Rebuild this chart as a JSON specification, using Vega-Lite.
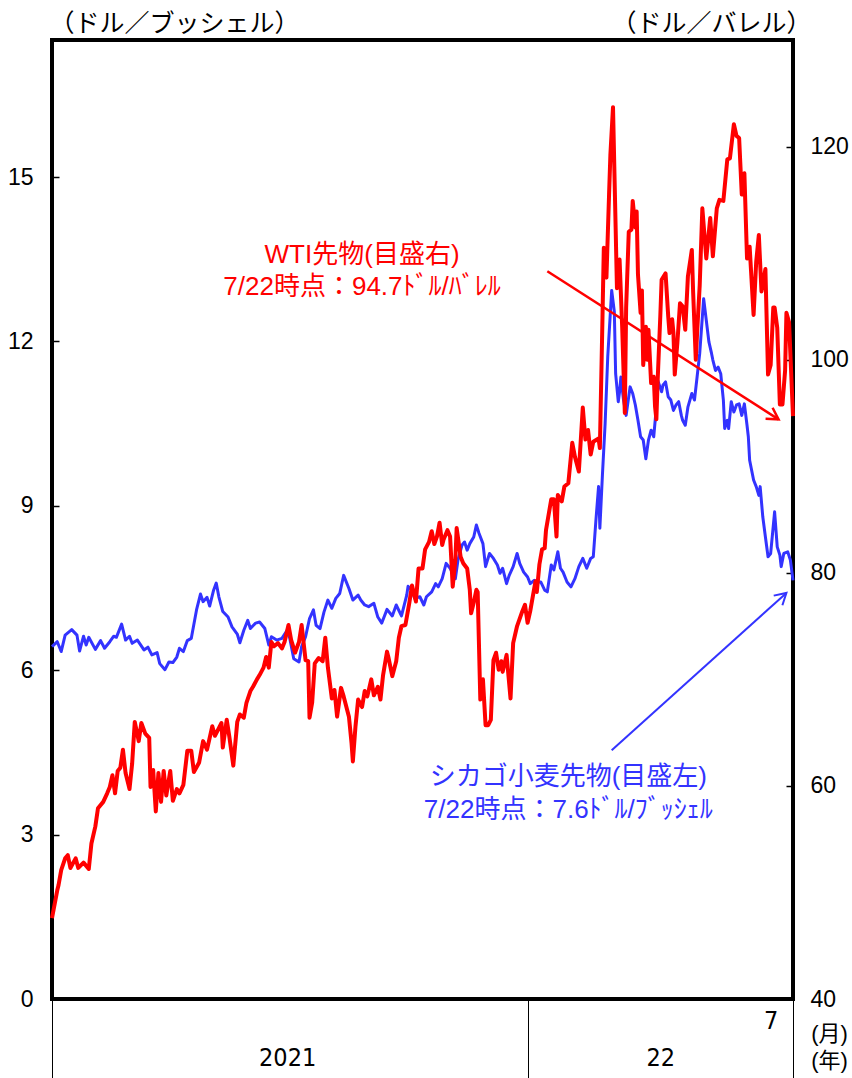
{
"$schema": "https://vega.github.io/schema/vega-lite/v6.json",
"width": 741,
"height": 959,
"autosize": {"type": "none"},
"padding": {"left": 52, "top": 40, "right": 59, "bottom": 79},
"background": "#ffffff",
"config": {
  "view": {"stroke": "#000000", "strokeWidth": 4},
  "axis": {"grid": false, "domain": false, "labelColor": "#000000", "titleColor": "#000000", "tickColor": "#000000", "labelFontWeight": "normal", "titleFontWeight": "normal"}
},
"datasets": {
"wheat": [
{"d":"2021-01-04","v":6.43},{"d":"2021-01-08","v":6.52},{"d":"2021-01-11","v":6.34},{"d":"2021-01-14","v":6.64},{"d":"2021-01-19","v":6.74},{"d":"2021-01-23","v":6.64},{"d":"2021-01-25","v":6.35},{"d":"2021-01-28","v":6.62},{"d":"2021-01-30","v":6.46},
{"d":"2021-02-01","v":6.60},{"d":"2021-02-06","v":6.38},{"d":"2021-02-10","v":6.54},{"d":"2021-02-13","v":6.40},{"d":"2021-02-17","v":6.52},{"d":"2021-02-20","v":6.62},{"d":"2021-02-22","v":6.60},{"d":"2021-02-26","v":6.84},
{"d":"2021-03-01","v":6.55},{"d":"2021-03-04","v":6.62},{"d":"2021-03-06","v":6.49},{"d":"2021-03-10","v":6.55},{"d":"2021-03-15","v":6.37},{"d":"2021-03-18","v":6.42},{"d":"2021-03-21","v":6.28},{"d":"2021-03-25","v":6.32},{"d":"2021-03-27","v":6.12},{"d":"2021-03-31","v":6.01},
{"d":"2021-04-03","v":6.15},{"d":"2021-04-06","v":6.14},{"d":"2021-04-09","v":6.24},{"d":"2021-04-11","v":6.40},{"d":"2021-04-14","v":6.34},{"d":"2021-04-17","v":6.54},{"d":"2021-04-20","v":6.58},{"d":"2021-04-24","v":7.10},{"d":"2021-04-27","v":7.39},{"d":"2021-04-29","v":7.25},
{"d":"2021-05-02","v":7.33},{"d":"2021-05-04","v":7.17},{"d":"2021-05-07","v":7.46},{"d":"2021-05-09","v":7.59},{"d":"2021-05-11","v":7.34},{"d":"2021-05-14","v":7.07},{"d":"2021-05-18","v":6.97},{"d":"2021-05-21","v":6.79},{"d":"2021-05-25","v":6.66},{"d":"2021-05-27","v":6.50},{"d":"2021-05-30","v":6.73},
{"d":"2021-06-02","v":6.91},{"d":"2021-06-04","v":6.76},{"d":"2021-06-08","v":6.86},{"d":"2021-06-11","v":6.88},{"d":"2021-06-15","v":6.76},{"d":"2021-06-18","v":6.46},{"d":"2021-06-20","v":6.61},{"d":"2021-06-24","v":6.55},{"d":"2021-06-28","v":6.58},
{"d":"2021-07-02","v":6.73},{"d":"2021-07-04","v":6.58},{"d":"2021-07-07","v":6.21},{"d":"2021-07-11","v":6.15},{"d":"2021-07-13","v":6.43},{"d":"2021-07-16","v":6.61},{"d":"2021-07-19","v":6.94},{"d":"2021-07-22","v":7.10},{"d":"2021-07-24","v":6.82},{"d":"2021-07-27","v":6.76},{"d":"2021-07-30","v":7.06},
{"d":"2021-08-02","v":7.28},{"d":"2021-08-05","v":7.13},{"d":"2021-08-08","v":7.31},{"d":"2021-08-11","v":7.40},{"d":"2021-08-14","v":7.73},{"d":"2021-08-18","v":7.49},{"d":"2021-08-21","v":7.28},{"d":"2021-08-25","v":7.37},{"d":"2021-08-27","v":7.28},{"d":"2021-08-30","v":7.19},
{"d":"2021-09-02","v":7.16},{"d":"2021-09-06","v":7.22},{"d":"2021-09-09","v":6.97},{"d":"2021-09-12","v":6.86},{"d":"2021-09-16","v":7.11},{"d":"2021-09-20","v":6.99},{"d":"2021-09-23","v":7.19},{"d":"2021-09-27","v":6.99},
{"d":"2021-10-01","v":7.37},{"d":"2021-10-02","v":7.53},{"d":"2021-10-05","v":7.46},{"d":"2021-10-07","v":7.31},{"d":"2021-10-11","v":7.34},{"d":"2021-10-14","v":7.19},{"d":"2021-10-16","v":7.34},{"d":"2021-10-20","v":7.43},{"d":"2021-10-23","v":7.58},{"d":"2021-10-25","v":7.52},{"d":"2021-10-28","v":7.67},{"d":"2021-10-31","v":7.95},
{"d":"2021-11-03","v":7.86},{"d":"2021-11-07","v":7.67},{"d":"2021-11-09","v":8.01},{"d":"2021-11-12","v":8.28},{"d":"2021-11-14","v":8.34},{"d":"2021-11-16","v":8.19},{"d":"2021-11-18","v":8.31},{"d":"2021-11-21","v":8.43},{"d":"2021-11-23","v":8.65},{"d":"2021-11-25","v":8.50},{"d":"2021-11-28","v":8.31},{"d":"2021-11-30","v":7.89},
{"d":"2021-12-03","v":8.13},{"d":"2021-12-06","v":8.04},{"d":"2021-12-09","v":7.92},{"d":"2021-12-11","v":7.77},{"d":"2021-12-13","v":7.86},{"d":"2021-12-16","v":7.58},{"d":"2021-12-18","v":7.73},{"d":"2021-12-21","v":7.89},{"d":"2021-12-24","v":8.13},{"d":"2021-12-26","v":7.95},{"d":"2021-12-29","v":7.79},
{"d":"2022-01-01","v":7.70},{"d":"2022-01-03","v":7.58},{"d":"2022-01-06","v":7.64},{"d":"2022-01-08","v":7.61},{"d":"2022-01-11","v":7.61},{"d":"2022-01-14","v":7.46},{"d":"2022-01-16","v":7.43},{"d":"2022-01-19","v":7.92},{"d":"2022-01-21","v":7.83},{"d":"2022-01-24","v":8.16},{"d":"2022-01-26","v":7.86},{"d":"2022-01-28","v":7.79},{"d":"2022-01-31","v":7.61},
{"d":"2022-02-03","v":7.52},{"d":"2022-02-06","v":7.67},{"d":"2022-02-09","v":7.89},{"d":"2022-02-12","v":8.04},{"d":"2022-02-15","v":7.86},{"d":"2022-02-18","v":8.04},{"d":"2022-02-20","v":8.07},{"d":"2022-02-22","v":8.74},{"d":"2022-02-24","v":9.35},{"d":"2022-02-25","v":8.59},{"d":"2022-02-27","v":9.59},
{"d":"2022-03-01","v":10.50},{"d":"2022-03-03","v":11.72},{"d":"2022-03-06","v":12.93},{"d":"2022-03-08","v":12.54},{"d":"2022-03-09","v":11.41},{"d":"2022-03-11","v":10.90},{"d":"2022-03-12","v":11.08},{"d":"2022-03-13","v":11.35},{"d":"2022-03-15","v":10.93},{"d":"2022-03-17","v":10.65},{"d":"2022-03-20","v":11.17},{"d":"2022-03-22","v":11.05},{"d":"2022-03-24","v":10.84},{"d":"2022-03-26","v":10.56},{"d":"2022-03-28","v":10.26},{"d":"2022-03-30","v":10.20},
{"d":"2022-04-01","v":9.86},{"d":"2022-04-03","v":10.20},{"d":"2022-04-05","v":10.38},{"d":"2022-04-07","v":10.26},{"d":"2022-04-09","v":10.80},{"d":"2022-04-10","v":11.29},{"d":"2022-04-13","v":11.08},{"d":"2022-04-14","v":11.20},{"d":"2022-04-16","v":11.26},{"d":"2022-04-18","v":10.99},{"d":"2022-04-20","v":10.93},{"d":"2022-04-22","v":10.74},{"d":"2022-04-24","v":10.84},{"d":"2022-04-26","v":10.90},{"d":"2022-04-28","v":10.65},{"d":"2022-04-29","v":10.56},
{"d":"2022-05-01","v":10.47},{"d":"2022-05-03","v":10.80},{"d":"2022-05-06","v":11.05},{"d":"2022-05-08","v":10.93},{"d":"2022-05-10","v":11.35},{"d":"2022-05-12","v":11.78},{"d":"2022-05-15","v":12.78},{"d":"2022-05-19","v":11.99},{"d":"2022-05-21","v":11.78},{"d":"2022-05-22","v":11.66},{"d":"2022-05-24","v":11.47},{"d":"2022-05-26","v":11.53},{"d":"2022-05-28","v":11.41},{"d":"2022-05-30","v":10.93},{"d":"2022-05-31","v":10.41},
{"d":"2022-06-02","v":10.56},{"d":"2022-06-03","v":10.41},{"d":"2022-06-05","v":10.90},{"d":"2022-06-07","v":10.71},{"d":"2022-06-09","v":10.84},{"d":"2022-06-11","v":10.86},{"d":"2022-06-13","v":10.65},{"d":"2022-06-15","v":10.86},{"d":"2022-06-17","v":10.47},{"d":"2022-06-18","v":10.26},{"d":"2022-06-19","v":9.83},{"d":"2022-06-22","v":9.47},{"d":"2022-06-24","v":9.35},{"d":"2022-06-26","v":9.19},{"d":"2022-06-27","v":9.35},{"d":"2022-06-29","v":8.80},
{"d":"2022-07-01","v":8.43},{"d":"2022-07-03","v":8.07},{"d":"2022-07-05","v":8.13},{"d":"2022-07-08","v":8.89},{"d":"2022-07-10","v":8.25},{"d":"2022-07-12","v":8.10},{"d":"2022-07-13","v":7.89},{"d":"2022-07-15","v":8.13},{"d":"2022-07-18","v":8.16},{"d":"2022-07-20","v":8.01},{"d":"2022-07-22","v":7.64}
],
"wti": [
{"d":"2021-01-04","v":47.6},{"d":"2021-01-08","v":50.2},{"d":"2021-01-09","v":50.7},{"d":"2021-01-11","v":52.1},{"d":"2021-01-14","v":53.2},{"d":"2021-01-16","v":53.5},{"d":"2021-01-18","v":52.3},{"d":"2021-01-22","v":53.2},{"d":"2021-01-24","v":52.3},{"d":"2021-01-28","v":52.8},
{"d":"2021-02-01","v":52.2},{"d":"2021-02-03","v":54.6},{"d":"2021-02-06","v":56.2},{"d":"2021-02-08","v":57.9},{"d":"2021-02-12","v":58.5},{"d":"2021-02-15","v":59.3},{"d":"2021-02-17","v":59.9},{"d":"2021-02-19","v":61.0},{"d":"2021-02-21","v":59.3},{"d":"2021-02-23","v":61.4},{"d":"2021-02-25","v":61.7},{"d":"2021-02-27","v":63.4},
{"d":"2021-03-01","v":61.2},{"d":"2021-03-04","v":59.7},{"d":"2021-03-06","v":62.1},{"d":"2021-03-08","v":66.0},{"d":"2021-03-11","v":64.2},{"d":"2021-03-13","v":65.9},{"d":"2021-03-16","v":64.9},{"d":"2021-03-19","v":64.5},{"d":"2021-03-20","v":59.9},{"d":"2021-03-22","v":61.5},{"d":"2021-03-24","v":57.6},{"d":"2021-03-26","v":61.2},{"d":"2021-03-28","v":58.5},{"d":"2021-03-30","v":61.4},
{"d":"2021-04-01","v":59.1},{"d":"2021-04-04","v":61.4},{"d":"2021-04-06","v":58.6},{"d":"2021-04-09","v":59.7},{"d":"2021-04-11","v":59.3},{"d":"2021-04-14","v":60.1},{"d":"2021-04-17","v":63.3},{"d":"2021-04-20","v":63.3},{"d":"2021-04-22","v":61.3},{"d":"2021-04-26","v":62.2},{"d":"2021-04-29","v":64.2},
{"d":"2021-05-02","v":63.4},{"d":"2021-05-06","v":65.6},{"d":"2021-05-08","v":64.7},{"d":"2021-05-13","v":65.9},{"d":"2021-05-14","v":63.6},{"d":"2021-05-17","v":66.2},{"d":"2021-05-19","v":64.6},{"d":"2021-05-22","v":61.9},{"d":"2021-05-25","v":66.0},{"d":"2021-05-27","v":66.7},{"d":"2021-05-30","v":66.4},
{"d":"2021-06-01","v":67.8},{"d":"2021-06-04","v":68.9},{"d":"2021-06-06","v":69.3},{"d":"2021-06-09","v":70.0},{"d":"2021-06-11","v":70.4},{"d":"2021-06-14","v":71.1},{"d":"2021-06-16","v":72.1},{"d":"2021-06-18","v":71.1},{"d":"2021-06-20","v":73.5},{"d":"2021-06-22","v":73.1},{"d":"2021-06-25","v":73.4},{"d":"2021-06-28","v":72.9},{"d":"2021-06-30","v":73.5},
{"d":"2021-07-03","v":75.1},{"d":"2021-07-05","v":73.7},{"d":"2021-07-08","v":72.5},{"d":"2021-07-11","v":73.5},{"d":"2021-07-13","v":75.1},{"d":"2021-07-16","v":71.8},{"d":"2021-07-18","v":71.7},{"d":"2021-07-19","v":66.4},{"d":"2021-07-21","v":67.8},{"d":"2021-07-23","v":71.5},{"d":"2021-07-26","v":72.0},{"d":"2021-07-29","v":71.7},{"d":"2021-07-31","v":73.9},
{"d":"2021-08-02","v":71.1},{"d":"2021-08-05","v":68.2},{"d":"2021-08-07","v":69.0},{"d":"2021-08-09","v":66.5},{"d":"2021-08-12","v":69.2},{"d":"2021-08-14","v":68.4},{"d":"2021-08-18","v":66.5},{"d":"2021-08-20","v":64.0},{"d":"2021-08-21","v":62.3},{"d":"2021-08-23","v":65.6},{"d":"2021-08-25","v":68.1},{"d":"2021-08-28","v":67.4},{"d":"2021-08-30","v":68.9},
{"d":"2021-09-01","v":68.4},{"d":"2021-09-04","v":70.0},{"d":"2021-09-06","v":68.5},{"d":"2021-09-09","v":69.3},{"d":"2021-09-11","v":68.1},{"d":"2021-09-13","v":70.4},{"d":"2021-09-16","v":72.6},{"d":"2021-09-17","v":72.1},{"d":"2021-09-20","v":70.3},{"d":"2021-09-23","v":71.7},{"d":"2021-09-25","v":73.9},{"d":"2021-09-27","v":75.0},{"d":"2021-09-30","v":75.1},
{"d":"2021-10-03","v":77.2},{"d":"2021-10-05","v":78.8},{"d":"2021-10-08","v":77.3},{"d":"2021-10-10","v":80.4},{"d":"2021-10-13","v":80.4},{"d":"2021-10-15","v":82.2},{"d":"2021-10-18","v":82.9},{"d":"2021-10-20","v":83.9},{"d":"2021-10-22","v":82.7},{"d":"2021-10-24","v":83.4},{"d":"2021-10-26","v":84.7},{"d":"2021-10-28","v":82.6},{"d":"2021-10-29","v":83.1},
{"d":"2021-11-01","v":84.0},{"d":"2021-11-03","v":83.4},{"d":"2021-11-05","v":78.7},{"d":"2021-11-07","v":81.2},{"d":"2021-11-08","v":84.2},{"d":"2021-11-11","v":81.5},{"d":"2021-11-13","v":80.9},{"d":"2021-11-16","v":80.4},{"d":"2021-11-18","v":78.4},{"d":"2021-11-19","v":76.2},{"d":"2021-11-21","v":77.2},{"d":"2021-11-23","v":78.4},{"d":"2021-11-24","v":78.2},{"d":"2021-11-26","v":68.1},{"d":"2021-11-28","v":70.0},{"d":"2021-11-30","v":65.7},
{"d":"2021-12-02","v":65.7},{"d":"2021-12-04","v":66.2},{"d":"2021-12-06","v":71.8},{"d":"2021-12-08","v":72.5},{"d":"2021-12-10","v":70.9},{"d":"2021-12-12","v":71.7},{"d":"2021-12-13","v":70.7},{"d":"2021-12-16","v":72.3},{"d":"2021-12-19","v":68.2},{"d":"2021-12-21","v":73.4},{"d":"2021-12-24","v":75.0},{"d":"2021-12-26","v":75.7},{"d":"2021-12-28","v":76.4},{"d":"2021-12-30","v":77.0},
{"d":"2022-01-01","v":75.3},{"d":"2022-01-03","v":76.4},{"d":"2022-01-05","v":77.8},{"d":"2022-01-07","v":79.2},{"d":"2022-01-08","v":78.2},{"d":"2022-01-10","v":80.8},{"d":"2022-01-12","v":82.2},{"d":"2022-01-14","v":82.3},{"d":"2022-01-15","v":84.0},{"d":"2022-01-19","v":86.9},{"d":"2022-01-21","v":86.9},{"d":"2022-01-23","v":83.4},{"d":"2022-01-24","v":87.3},{"d":"2022-01-27","v":86.7},{"d":"2022-01-29","v":88.1},
{"d":"2022-02-01","v":88.4},{"d":"2022-02-04","v":92.2},{"d":"2022-02-06","v":90.9},{"d":"2022-02-09","v":89.5},{"d":"2022-02-12","v":95.5},{"d":"2022-02-14","v":92.5},{"d":"2022-02-16","v":93.4},{"d":"2022-02-18","v":91.1},{"d":"2022-02-20","v":92.3},{"d":"2022-02-24","v":92.6},{"d":"2022-02-25","v":91.7},{"d":"2022-02-27","v":104.0},{"d":"2022-02-28","v":110.5},
{"d":"2022-03-02","v":107.7},{"d":"2022-03-04","v":115.5},{"d":"2022-03-05","v":119.2},{"d":"2022-03-07","v":123.7},{"d":"2022-03-09","v":112.4},{"d":"2022-03-10","v":106.7},{"d":"2022-03-12","v":109.4},{"d":"2022-03-14","v":103.0},{"d":"2022-03-16","v":95.0},{"d":"2022-03-17","v":104.9},{"d":"2022-03-19","v":112.0},{"d":"2022-03-21","v":112.2},{"d":"2022-03-22","v":114.9},{"d":"2022-03-24","v":112.4},{"d":"2022-03-25","v":113.9},{"d":"2022-03-26","v":108.0},{"d":"2022-03-28","v":104.4},{"d":"2022-03-29","v":106.5},{"d":"2022-03-30","v":99.5},
{"d":"2022-04-01","v":103.1},{"d":"2022-04-02","v":100.0},{"d":"2022-04-03","v":102.8},{"d":"2022-04-05","v":97.8},{"d":"2022-04-07","v":98.4},{"d":"2022-04-08","v":95.6},{"d":"2022-04-09","v":94.4},{"d":"2022-04-10","v":98.1},{"d":"2022-04-12","v":104.1},{"d":"2022-04-13","v":107.5},{"d":"2022-04-16","v":108.1},{"d":"2022-04-18","v":104.1},{"d":"2022-04-19","v":102.5},{"d":"2022-04-21","v":103.8},{"d":"2022-04-22","v":102.5},{"d":"2022-04-23","v":98.6},{"d":"2022-04-25","v":101.6},{"d":"2022-04-27","v":105.3},{"d":"2022-04-29","v":105.0},
{"d":"2022-05-01","v":102.8},{"d":"2022-05-03","v":107.8},{"d":"2022-05-06","v":110.3},{"d":"2022-05-07","v":106.3},{"d":"2022-05-09","v":100.0},{"d":"2022-05-10","v":102.5},{"d":"2022-05-12","v":107.0},{"d":"2022-05-14","v":114.2},{"d":"2022-05-17","v":109.5},{"d":"2022-05-20","v":113.3},{"d":"2022-05-22","v":109.7},{"d":"2022-05-25","v":114.2},{"d":"2022-05-27","v":115.0},{"d":"2022-05-30","v":114.9},
{"d":"2022-06-02","v":118.8},{"d":"2022-06-04","v":118.9},{"d":"2022-06-07","v":122.1},{"d":"2022-06-09","v":121.0},{"d":"2022-06-11","v":120.8},{"d":"2022-06-13","v":115.5},{"d":"2022-06-15","v":117.5},{"d":"2022-06-17","v":109.5},{"d":"2022-06-19","v":110.6},{"d":"2022-06-22","v":104.2},{"d":"2022-06-24","v":109.2},{"d":"2022-06-26","v":111.7},{"d":"2022-06-28","v":106.4},
{"d":"2022-07-01","v":108.5},{"d":"2022-07-03","v":98.6},{"d":"2022-07-05","v":99.5},{"d":"2022-07-07","v":104.9},{"d":"2022-07-08","v":104.9},{"d":"2022-07-10","v":103.0},{"d":"2022-07-12","v":95.8},{"d":"2022-07-14","v":95.8},{"d":"2022-07-16","v":99.0},{"d":"2022-07-17","v":104.4},{"d":"2022-07-19","v":103.5},{"d":"2022-07-22","v":94.7}
]
},
"encoding": {
  "x": {
    "field": "d", "type": "temporal",
    "scale": {"type": "utc", "domain": [{"year": 2021, "month": 1, "date": 4, "utc": true}, {"year": 2022, "month": 7, "date": 22, "utc": true}]},
    "axis": {
      "values": [
        {"year": 2021, "month": 1, "date": 4, "utc": true},
        {"year": 2021, "month": 7, "date": 2, "utc": true},
        {"year": 2022, "month": 1, "date": 1, "utc": true},
        {"year": 2022, "month": 4, "date": 12, "utc": true},
        {"year": 2022, "month": 7, "date": 5, "utc": true},
        {"year": 2022, "month": 7, "date": 22, "utc": true}
      ],
      "labelExpr": "(utcyear(datum.value) == 2021 && utcmonth(datum.value) == 6) ? '2021' : (utcmonth(datum.value) == 3 ? '22' : ((utcyear(datum.value) == 2022 && utcmonth(datum.value) == 6 && utcdate(datum.value) == 5) ? '7' : ''))",
      "tickSize": 79,
      "tickWidth": 1,
      "tickOpacity": {"condition": {"test": "utcmonth(datum.value) == 0 || utcdate(datum.value) == 22", "value": 1}, "value": 0},
      "labelPadding": {"condition": {"test": "utcdate(datum.value) == 5", "value": -70}, "value": -33},
      "labelFont": "'DejaVu Sans Condensed', 'Liberation Sans', sans-serif",
      "labelFontSize": 25,
      "labelBaseline": "top",
      "labelFlush": false,
      "labelOverlap": false,
      "labelBound": false,
      "title": ["(月)", "(年)"],
      "titleX": 777,
      "titleY": 34,
      "titleAngle": 0,
      "titleAlign": "center",
      "titleBaseline": "middle",
      "titleLineHeight": 27,
      "titleFont": "'Liberation Sans', 'Noto Sans CJK JP', sans-serif",
      "titleFontSize": 22
    }
  }
},
"layer": [
  {
    "encoding": {
      "y": {
        "field": "v", "type": "quantitative",
        "scale": {"domain": [0, 17.5], "nice": false, "zero": false},
        "axis": {
          "orient": "left",
          "values": [0, 3, 6, 9, 12, 15],
          "tickSize": -7,
          "tickWidth": 1.5,
          "labelPadding": 26,
          "labelFont": "'Liberation Sans', sans-serif",
          "labelFontSize": 23,
          "title": "（ドル／ブッシェル）",
          "titleAngle": 0,
          "titleX": 122,
          "titleY": -17,
          "titleAlign": "center",
          "titleBaseline": "middle",
          "titleFont": "'Noto Sans CJK JP', sans-serif",
          "titleFontSize": 25
        }
      }
    },
    "layer": [
      {"data": {"name": "wheat"}, "mark": {"type": "line", "color": "#3333ff", "strokeWidth": 3, "strokeJoin": "round"}},
      {
        "data": {"values": [{"d": "2022-02-01", "v": 4.05, "t": "シカゴ小麦先物(目盛左)"}, {"d": "2022-02-01", "v": 3.45, "t": "7/22時点：7.6ﾄﾞﾙ/ﾌﾞｯｼｪﾙ"}]},
        "mark": {"type": "text", "color": "#3333ff", "fontSize": 26, "font": "'Liberation Sans', 'Noto Sans CJK JP', sans-serif", "align": "center", "baseline": "middle"},
        "encoding": {"text": {"field": "t"}}
      },
      {
        "data": {"values": [{"d": "2022-03-06", "v": 4.54, "d2": "2022-07-17", "v2": 7.41}]},
        "mark": {"type": "rule", "color": "#3333ff", "strokeWidth": 2},
        "encoding": {"x2": {"field": "d2"}, "y2": {"field": "v2"}}
      },
      {
        "data": {"values": [{"d": "2022-07-17", "v": 7.41}]},
        "mark": {"type": "point", "shape": "M -0.866 -0.5 L 0 0 L -0.866 0.5", "filled": false, "color": "#3333ff", "strokeWidth": 2, "size": 676, "angle": -41.9, "opacity": 1}
      }
    ]
  },
  {
    "encoding": {
      "y": {
        "field": "v", "type": "quantitative",
        "scale": {"domain": [40, 130], "nice": false, "zero": false},
        "axis": {
          "orient": "right",
          "values": [40, 60, 80, 100, 120],
          "tickSize": -7,
          "tickWidth": 1.5,
          "labelPadding": 24,
          "labelFont": "'Liberation Sans', sans-serif",
          "labelFontSize": 23,
          "title": "（ドル／バレル）",
          "titleAngle": 0,
          "titleX": -82,
          "titleY": -17,
          "titleAlign": "center",
          "titleBaseline": "middle",
          "titleFont": "'Noto Sans CJK JP', sans-serif",
          "titleFontSize": 25
        }
      }
    },
    "layer": [
      {"data": {"name": "wti"}, "mark": {"type": "line", "color": "#ff0000", "strokeWidth": 4, "strokeJoin": "round"}},
      {
        "data": {"values": [{"d": "2021-08-28", "v": 109.8, "t": "WTI先物(目盛右)"}, {"d": "2021-08-28", "v": 106.8, "t": "7/22時点：94.7ﾄﾞﾙ/ﾊﾞﾚﾙ"}]},
        "mark": {"type": "text", "color": "#ff0000", "fontSize": 26, "font": "'Liberation Sans', 'Noto Sans CJK JP', sans-serif", "align": "center", "baseline": "middle"},
        "encoding": {"text": {"field": "t"}}
      },
      {
        "data": {"values": [{"d": "2022-01-16", "v": 108.3, "d2": "2022-07-11", "v2": 94.4}]},
        "mark": {"type": "rule", "color": "#ff0000", "strokeWidth": 2.5},
        "encoding": {"x2": {"field": "d2"}, "y2": {"field": "v2"}}
      },
      {
        "data": {"values": [{"d": "2022-07-11", "v": 94.4}]},
        "mark": {"type": "point", "shape": "M -0.866 -0.5 L 0 0 L -0.866 0.5", "filled": false, "color": "#ff0000", "strokeWidth": 2.5, "size": 676, "angle": 32.7, "opacity": 1}
      }
    ]
  }
],
"resolve": {"scale": {"y": "independent"}}
}
